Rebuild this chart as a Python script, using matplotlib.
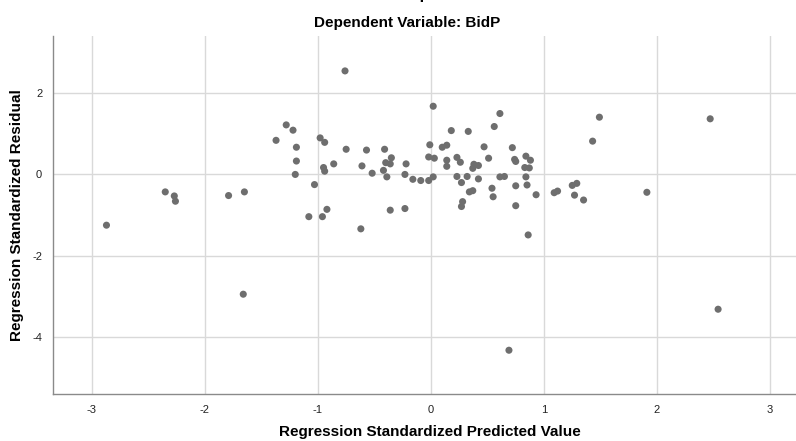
import numpy as np
import matplotlib.pyplot as plt

plt.rcParams["font.family"] = ["Liberation Sans", "DejaVu Sans"]
plt.rcParams["axes.unicode_minus"] = False

# standardized predicted values (x) and standardized residuals (y)
pred = [
    -2.87, -2.35, -2.27, -2.26, -1.79, -1.65, -1.66, -1.37, -1.28, -1.22,
    -1.19, -1.19, -1.20, -1.08, -1.03, -0.98, -0.94, -0.96, -0.92, -0.95,
    -0.94, -0.86, -0.76, -0.75, -0.62, -0.61, -0.57, -0.52, -0.41, -0.40,
    -0.36, -0.35, -0.42, -0.39, -0.36, -0.23, -0.22, -0.23, -0.16, -0.09,
    -0.02, 0.02, -0.01, -0.02, 0.03, 0.02, 0.10, 0.14, 0.18, 0.14,
    0.14, 0.23, 0.26, 0.23, 0.27, 0.32, 0.33, 0.27, 0.28, 0.34,
    0.37, 0.38, 0.42, 0.37, 0.42, 0.47, 0.51, 0.54, 0.55, 0.56,
    0.61, 0.61, 0.65, 0.69, 0.72, 0.74, 0.75, 0.75, 0.75, 0.84,
    0.88, 0.83, 0.87, 0.84, 0.85, 0.86, 0.93, 1.09, 1.12, 1.25,
    1.29, 1.27, 1.35, 1.43, 1.49, 1.91, 2.47, 2.54,
]
resid = [
    -1.25, -0.43, -0.53, -0.66, -0.52, -0.43, -2.95, 0.84, 1.22, 1.09,
    0.67, 0.33, 0.00, -1.04, -0.25, 0.90, 0.79, -1.04, -0.86, 0.17,
    0.08, 0.26, 2.55, 0.62, -1.34, 0.21, 0.60, 0.03, 0.62, 0.29,
    0.26, 0.41, 0.10, -0.06, -0.88, -0.84, 0.26, 0.00, -0.12, -0.15,
    -0.15, -0.06, 0.73, 0.43, 0.40, 1.68, 0.67, 0.72, 1.08, 0.35,
    0.20, 0.42, 0.30, -0.05, -0.20, -0.05, 1.06, -0.79, -0.67, -0.43,
    -0.40, 0.25, 0.22, 0.15, -0.11, 0.68, 0.40, -0.34, -0.55, 1.18,
    1.50, -0.06, -0.05, -4.33, 0.66, 0.37, 0.32, -0.28, -0.77, 0.45,
    0.35, 0.17, 0.16, -0.06, -0.26, -1.49, -0.50, -0.45, -0.41, -0.27,
    -0.22, -0.51, -0.63, 0.82, 1.41, -0.44, 1.37, -3.32,
]

x_ticks = [-3, -2, -1, 0, 1, 2, 3]
y_ticks = [-4, -2, 0, 2]

fig = plt.figure(figsize=(7.96, 4.41), dpi=100, facecolor="white")
ax = fig.add_axes([0.067, 0.1073, 0.933, 0.8111])

ax.scatter(pred, resid, s=26, color="#6e6e6e", edgecolors="none", zorder=3)

ax.set_xlim(-3.34, 3.229)
ax.set_ylim(-5.40, 3.41)
ax.set_xticks(x_ticks)
ax.set_yticks(y_ticks)
ax.grid(True, color="#d9d9d9", linewidth=1.0, zorder=0)
ax.tick_params(length=0, labelsize=8, colors="#222222", pad=8)

for side in ("top", "right"):
    ax.spines[side].set_visible(False)
for side in ("left", "bottom"):
    ax.spines[side].set_color("#8a8a8a")
    ax.spines[side].set_linewidth(1.0)

# axis titles and headings placed in figure pixels
W, H = 796, 441
fig.text(430 / W, 1 - 432 / H, "Regression Standardized Predicted Value",
         ha="center", va="center", fontsize=11, fontweight="bold")
fig.text(17 / W, 1 - 215 / H, "Regression Standardized Residual",
         ha="center", va="center", rotation=90, fontsize=11, fontweight="bold")
fig.text(407 / W, 1 - 23 / H, "Dependent Variable: BidP",
         ha="center", va="center", fontsize=11, fontweight="bold")
# main heading sits above the top edge, only its descenders reach the canvas
fig.text(407 / W, 1 + 1 / H, "Scatterplot",
         ha="center", va="baseline", fontsize=12, fontweight="bold")

fig.savefig("out.png", dpi=100, facecolor="white")
